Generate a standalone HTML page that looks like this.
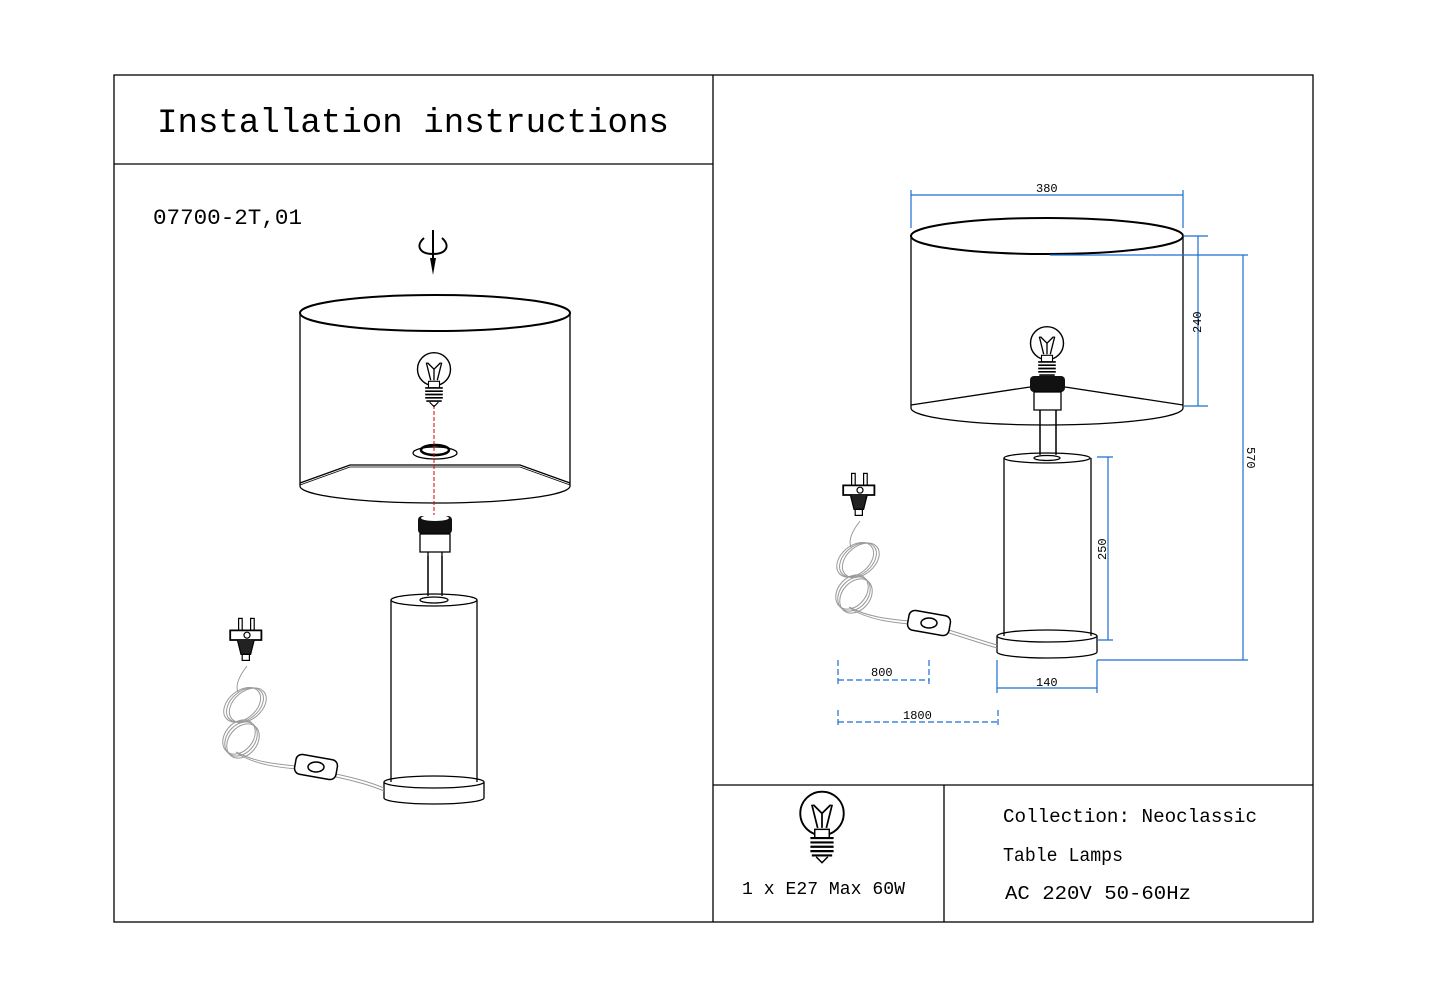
<!DOCTYPE html>
<html><head><style>
body{margin:0;background:#fff}
svg{display:block}
text{font-family:"Liberation Mono",monospace;fill:#000}
</style></head><body>
<svg width="1429" height="1000" viewBox="0 0 1429 1000" xmlns="http://www.w3.org/2000/svg">
<defs>
<g id="bulb">
<circle cx="0" cy="-8" r="15" fill="#fff" stroke="#000" stroke-width="1.3"/>
<path d="M-7,-14 L-3,2 M7,-14 L3,2 M-6,-14 L0,-8 L6,-14 M0,-8 L0,2" stroke="#000" stroke-width="1.2" fill="none"/>
<rect x="-5" y="3" width="10" height="6" fill="#fff" stroke="#000"/>
<path d="M-8,9 h16 M-8,12 h16 M-8,15 h16 M-8,18 h16 M-7,21 h14" stroke="#000" stroke-width="1.5"/>
<path d="M-4,22 L0,26 L4,22" stroke="#000" fill="none"/>
</g>
<g id="plug">
<rect x="-7" y="-18" width="3" height="10" fill="#fff" stroke="#000"/>
<rect x="3" y="-18" width="3" height="10" fill="#fff" stroke="#000"/>
<path d="M-14,-8 h26 v8 h-26z" fill="#fff" stroke="#000" stroke-width="1.5"/>
<circle cx="0" cy="-4" r="2.5" fill="none" stroke="#000"/>
<path d="M-8,0 L-5,12 L3,12 L6,0" fill="#222" stroke="#000"/>
<rect x="-4" y="12" width="6" height="5" fill="#fff" stroke="#000"/>
</g>
<g id="coil" fill="none" stroke="#999" stroke-width="1">
<ellipse cx="0" cy="0" rx="21" ry="14" transform="rotate(-40)"/>
<ellipse cx="2" cy="2" rx="21" ry="14" transform="rotate(-40)"/>
<ellipse cx="-2" cy="-2" rx="21" ry="14" transform="rotate(-40)"/>
<ellipse cx="-4" cy="34" rx="19" ry="14" transform="rotate(-50 -4 34)"/>
<ellipse cx="-2" cy="36" rx="19" ry="14" transform="rotate(-50 -2 36)"/>
<ellipse cx="-6" cy="32" rx="19" ry="14" transform="rotate(-50 -6 32)"/>
</g>
</defs>
<g fill="none" stroke="#000" stroke-width="1.3">
<rect x="114" y="75" width="1199" height="847"/>
<line x1="713" y1="75" x2="713" y2="922"/>
<line x1="114" y1="164" x2="713" y2="164"/>
<line x1="713" y1="785" x2="1313" y2="785"/>
<line x1="944" y1="785" x2="944" y2="922"/>
</g>
<text x="157" y="132" font-size="34" textLength="512" lengthAdjust="spacingAndGlyphs">Installation instructions</text>
<text x="153" y="224" font-size="22" textLength="149" lengthAdjust="spacingAndGlyphs">07700-2T,01</text>

<!-- rotate icon -->
<path d="M424,238 C415,246 420,254 433,254 C446,254 451,246 442,238" fill="none" stroke="#000" stroke-width="2"/>
<line x1="433" y1="230" x2="433" y2="258" stroke="#000" stroke-width="2"/>
<path d="M430,258 L436,258 L433,275Z" fill="#000"/>

<!-- left lamp shade -->
<g fill="none" stroke="#000" stroke-width="1.3">
<path d="M300,313 L300,486 M570,313 L570,486"/>
<ellipse cx="435" cy="313" rx="135" ry="18" stroke-width="2"/>
<path d="M300,486 A135,17 0 0 0 570,486"/>
<path d="M300,483 L350,465 L520,465 L570,483"/>
<path d="M300,485 L350,467 L520,467 L570,485" stroke-width="0.8"/>
<ellipse cx="435" cy="453" rx="22" ry="6"/>
<ellipse cx="435" cy="450" rx="14" ry="5" stroke-width="2.5"/>
</g>
<line x1="434" y1="405" x2="434" y2="515" stroke="#d00" stroke-width="1" stroke-dasharray="4,2"/>
<use href="#bulb" transform="translate(434,378) scale(1.1)"/>
<rect x="418" y="516" width="34" height="18" rx="4" fill="#111"/>
<ellipse cx="435" cy="518" rx="14" ry="3" fill="#fff"/>
<path d="M420,534 h30 v18 h-30z M428,552 v46 M442,552 v46" fill="#fff" stroke="#000" stroke-width="1.3"/>
<g fill="#fff" stroke="#000" stroke-width="1.3">
<path d="M384,782 v16 A50,6 0 0 0 484,798 v-16"/>
<ellipse cx="434" cy="782" rx="50" ry="6"/>
<path d="M391,600 V782 M477,600 V782"/>
<ellipse cx="434" cy="600" rx="43" ry="6"/>
<ellipse cx="434" cy="600" rx="14" ry="3"/>
<path d="M428,596 v-40 M442,596 v-40"/>
</g>
<!-- cord left -->
<use href="#coil" transform="translate(245,705)"/>
<g fill="none" stroke="#999" stroke-width="1">
<path d="M247,666 C240,675 235,685 238,692"/>
<path d="M236,752 C255,762 275,764 296,766 M336,774 C355,778 370,782 384,788"/>
<path d="M238,754 C257,765 277,767 296,769 M336,777 C355,781 370,785 384,791"/>
</g>
<rect x="295" y="757" width="42" height="20" rx="6" transform="rotate(10 316 767)" fill="#fff" stroke="#000" stroke-width="1.5"/>
<ellipse cx="316" cy="767" rx="8" ry="5" fill="none" stroke="#000" stroke-width="1.5"/>
<use href="#plug" transform="translate(247,640) scale(1.2)"/>

<!-- right lamp shade -->
<g fill="none" stroke="#000" stroke-width="1.3">
<path d="M911,236 L911,408 M1183,236 L1183,408"/>
<ellipse cx="1047" cy="236" rx="136" ry="18" stroke-width="2"/>
<path d="M911,408 A136,17 0 0 0 1183,408"/>
<path d="M911,405 L1030,387 M1065,387 L1183,405"/>
</g>
<use href="#bulb" transform="translate(1047,352) scale(1.1)"/>
<rect x="1030" y="376" width="35" height="16" rx="4" fill="#111"/>
<path d="M1034,392 h27 v18 h-27z M1040,410 v48 M1056,410 v48" fill="#fff" stroke="#000" stroke-width="1.3"/>
<g fill="#fff" stroke="#000" stroke-width="1.3">
<path d="M997,636 v16 A50,6 0 0 0 1097,652 v-16"/>
<ellipse cx="1047" cy="636" rx="50" ry="6"/>
<path d="M1004,458 V636 M1091,458 V636"/>
<ellipse cx="1047" cy="458" rx="43" ry="5"/>
<ellipse cx="1047" cy="458" rx="13" ry="2.5"/>
<path d="M1040,455 v-45 M1056,455 v-45"/>
</g>
<use href="#coil" transform="translate(858,560)"/>
<g fill="none" stroke="#999" stroke-width="1">
<path d="M860,521 C853,530 848,540 851,547"/>
<path d="M849,607 C868,617 888,619 909,621 M949,630 C968,636 983,641 997,645"/>
<path d="M851,609 C870,620 890,622 909,624 M949,633 C968,639 983,644 997,648"/>
</g>
<rect x="908" y="613" width="42" height="20" rx="6" transform="rotate(10 929 623)" fill="#fff" stroke="#000" stroke-width="1.5"/>
<ellipse cx="929" cy="623" rx="8" ry="5" fill="none" stroke="#000" stroke-width="1.5"/>
<use href="#plug" transform="translate(860,495) scale(1.2)"/>

<!-- dimensions -->
<g stroke="#1a6fd0" stroke-width="1.2" fill="none">
<path d="M911,195 H1183 M911,190 V228 M1183,190 V228"/>
<path d="M1198,236 V406 M1183,236 H1208 M1183,406 H1208"/>
<path d="M1243,255 V660 M1050,255 H1248 M1097,660 H1248"/>
<path d="M1108,457 V640 M1097,457 H1113 M1097,640 H1113"/>
<path d="M997,688 H1097 M997,660 V693 M1097,660 V693"/>
<path d="M838,680 H929 M838,660 V685 M929,660 V685" stroke-dasharray="6,3"/>
<path d="M838,722 H998 M838,710 V728 M998,710 V728" stroke-dasharray="6,3"/>
</g>
<g font-family="Liberation Sans" font-size="12">
<text x="1036" y="192">380</text>
<text x="1201" y="333" transform="rotate(-90 1201 333)">240</text>
<text x="1247" y="447" transform="rotate(90 1247 447)">570</text>
<text x="1106" y="560" transform="rotate(-90 1106 560)">250</text>
<text x="1036" y="686">140</text>
<text x="871" y="676">800</text>
<text x="903" y="719">1800</text>
</g>

<use href="#bulb" transform="translate(822,825) scale(1.45)"/>
<text x="742" y="894" font-size="18" textLength="163" lengthAdjust="spacingAndGlyphs">1 x E27 Max 60W</text>
<text x="1003" y="822" font-size="19" textLength="254" lengthAdjust="spacingAndGlyphs">Collection: Neoclassic</text>
<text x="1003" y="861" font-size="19" textLength="120" lengthAdjust="spacingAndGlyphs">Table Lamps</text>
<text x="1005" y="899" font-size="19" textLength="186" lengthAdjust="spacingAndGlyphs">AC 220V  50-60Hz</text>
</svg>
</body></html>
